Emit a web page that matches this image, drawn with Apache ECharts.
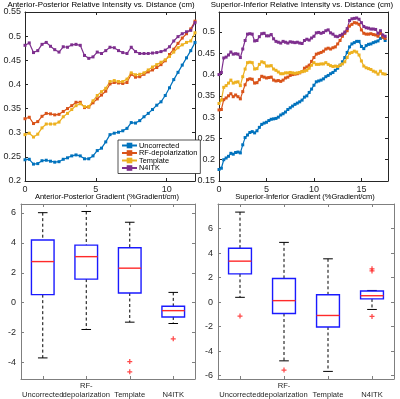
<!DOCTYPE html>
<html><head><meta charset="utf-8">
<script src="https://cdn.jsdelivr.net/npm/echarts@6/dist/echarts.min.js"></script>
<style>html,body{margin:0;padding:0;background:#fff}#c{width:400px;height:399px}</style>
</head><body><div id="c"></div>
<script>
const seriesNames = ['Uncorrected', 'RF-depolarization', 'Template', 'N4ITK'];
const seriesColors = ['#0072BD', '#D95319', '#EDB120', '#7E2F8E'];

// Anterior-Posterior relative intensity (distance step 0.3 cm)
const apStep = 0.3;
const apUncorrected = [0.244,0.245,0.235,0.236,0.242,0.243,0.241,0.239,0.240,0.245,
  0.248,0.252,0.254,0.252,0.246,0.246,0.252,0.263,0.268,0.281,
  0.296,0.299,0.301,0.304,0.309,0.321,0.320,0.325,0.333,0.340,
  0.348,0.357,0.364,0.377,0.393,0.410,0.425,0.440,0.455,0.470,0.487];
const apRF = [0.329,0.332,0.319,0.323,0.334,0.340,0.339,0.337,0.338,0.344,
  0.350,0.356,0.363,0.363,0.352,0.353,0.362,0.370,0.378,0.386,
  0.401,0.404,0.403,0.402,0.404,0.421,0.415,0.416,0.421,0.426,
  0.430,0.435,0.441,0.449,0.462,0.473,0.485,0.496,0.505,0.515,0.531];
const apTemplate = [0.296,0.299,0.291,0.297,0.310,0.318,0.318,0.318,0.322,0.333,
  0.340,0.348,0.356,0.360,0.354,0.354,0.366,0.377,0.385,0.392,
  0.406,0.408,0.406,0.406,0.411,0.424,0.420,0.421,0.424,0.430,
  0.436,0.441,0.446,0.451,0.458,0.467,0.476,0.482,0.487,0.490,0.507];
const apN4ITK = [0.481,0.486,0.466,0.470,0.483,0.487,0.479,0.472,0.467,0.478,
  0.477,0.482,0.483,0.481,0.460,0.454,0.457,0.467,0.464,0.470,
  0.477,0.476,0.470,0.466,0.464,0.477,0.468,0.464,0.464,0.464,
  0.465,0.466,0.468,0.471,0.478,0.490,0.499,0.505,0.509,0.512,0.528];

// Superior-Inferior relative intensity (distance step 0.25 cm)
const siStep = 0.25;
const siUncorrected = [0.177,0.180,0.200,0.204,0.208,0.215,0.213,0.217,0.218,0.216,
  0.235,0.252,0.258,0.264,0.266,0.263,0.268,0.276,0.283,0.286,
  0.288,0.292,0.295,0.296,0.297,0.300,0.305,0.308,0.312,0.318,
  0.322,0.326,0.330,0.333,0.336,0.340,0.347,0.350,0.358,0.366,
  0.375,0.383,0.385,0.387,0.390,0.395,0.398,0.402,0.405,0.410,
  0.415,0.422,0.430,0.440,0.452,0.465,0.472,0.475,0.478,0.478,
  0.466,0.461,0.468,0.471,0.472,0.475,0.477,0.479,0.485,0.488,0.480];
const siRF = [0.317,0.318,0.341,0.345,0.350,0.355,0.348,0.352,0.348,0.343,
  0.360,0.376,0.388,0.390,0.389,0.380,0.381,0.388,0.396,0.394,
  0.392,0.393,0.394,0.387,0.385,0.386,0.384,0.387,0.392,0.394,
  0.398,0.400,0.401,0.402,0.404,0.407,0.415,0.418,0.422,0.431,
  0.440,0.448,0.450,0.452,0.455,0.460,0.462,0.460,0.463,0.465,
  0.472,0.480,0.490,0.497,0.503,0.514,0.518,0.522,0.521,0.518,
  0.505,0.497,0.495,0.495,0.496,0.494,0.493,0.490,0.497,0.488,0.485];
const siTemplate = [0.332,0.340,0.370,0.374,0.380,0.387,0.380,0.382,0.383,0.374,
  0.395,0.413,0.428,0.429,0.428,0.413,0.414,0.424,0.430,0.428,
  0.420,0.420,0.421,0.413,0.410,0.406,0.402,0.402,0.404,0.404,
  0.405,0.404,0.403,0.404,0.405,0.407,0.408,0.410,0.415,0.422,
  0.428,0.424,0.424,0.425,0.425,0.428,0.424,0.421,0.419,0.420,
  0.419,0.422,0.425,0.430,0.440,0.450,0.452,0.455,0.453,0.446,
  0.432,0.420,0.416,0.414,0.412,0.408,0.406,0.401,0.408,0.402,0.401];
const siN4ITK = [0.400,0.405,0.439,0.441,0.446,0.453,0.448,0.449,0.448,0.440,
  0.460,0.480,0.495,0.496,0.495,0.479,0.480,0.489,0.496,0.497,
  0.491,0.491,0.494,0.484,0.478,0.476,0.474,0.478,0.476,0.474,
  0.477,0.476,0.475,0.476,0.474,0.473,0.480,0.483,0.481,0.486,
  0.490,0.498,0.499,0.497,0.499,0.503,0.505,0.498,0.495,0.490,
  0.489,0.492,0.495,0.500,0.508,0.527,0.531,0.532,0.533,0.530,
  0.522,0.513,0.510,0.509,0.507,0.507,0.506,0.497,0.503,0.493,0.490];

// Box plots: [lowerWhisker, Q1, median, Q3, upperWhisker]
const boxCategories = ['Uncorrected', 'RF-\ndepolarization', 'Template', 'N4ITK'];
const apBoxes = [[-3.69,0.54,2.75,4.19,6.02],[-1.79,1.58,3.08,3.85,6.10],[-1.30,0.65,2.31,3.68,5.38],[-1.39,-0.95,-0.53,-0.24,0.69]];
const apOutliers = [[2,-3.93],[2,-4.62],[3,-2.41]];
const siBoxes = [[0.39,2.30,3.34,4.39,7.34],[-4.79,-0.93,0.12,1.92,4.87],[-5.65,-2.03,-1.09,0.60,3.53],[-0.60,0.26,0.52,0.90,0.95]];
const siOutliers = [[0,-1.14],[1,-5.54],[3,2.72],[3,2.54],[3,-1.17]];

// Tick values
const apDistTicks = [0, 5, 10];
const siDistTicks = [0, 5, 10, 15];
const apIntensityTicks = [0.2, 0.25, 0.3, 0.35, 0.4, 0.45, 0.5, 0.55];
const siIntensityTicks = [0.15, 0.2, 0.25, 0.3, 0.35, 0.4, 0.45, 0.5];
const apGradTicks = [-4, -2, 0, 2, 4, 6];
const siGradTicks = [-6, -4, -2, 0, 2, 4, 6];

const titles = ['Anterior-Posterior Relative Intensity vs. Distance (cm)', 'Superior-Inferior Relative Intensity vs. Distance (cm)',
  'Anterior-Posterior Gradient (%Gradient/cm)', 'Superior-Inferior Gradient (%Gradient/cm)'];

const FONT = 'Liberation Sans, Arial, sans-serif';
const frameDark = '#262626';
const frameGray = '#7f7f7f';

function toPairs(arr, step) { return arr.map((v, i) => [+(i * step).toFixed(2), v]); }

function valAxis(gi, pos, min, max, ticks, frame, showLabel, margin) {
  return {
    type: 'value', gridIndex: gi, position: pos, min: min, max: max,
    axisLine: { show: true, onZero: false, lineStyle: { color: frame, width: 1 } },
    axisTick: { show: true, inside: true, length: 3, customValues: ticks, lineStyle: { color: frame } },
    axisLabel: { show: showLabel, customValues: ticks, color: '#262626', fontSize: 9, fontFamily: FONT, margin: margin || 4 },
    splitLine: { show: false }
  };
}
function catAxis(gi, pos, frame, showLabel) {
  return {
    type: 'category', gridIndex: gi, position: pos, data: boxCategories, boundaryGap: true,
    axisLine: { show: true, onZero: false, lineStyle: { color: frame, width: 1 } },
    axisTick: { show: true, inside: true, length: 3, alignWithLabel: true, lineStyle: { color: frame } },
    axisLabel: { show: showLabel, color: '#262626', fontSize: 7.6, lineHeight: 8.5, fontFamily: FONT, margin: 3, interval: 0,
      formatter: v => v.indexOf('\n') >= 0 ? v : '\n' + v },
    splitLine: { show: false }
  };
}

const xAxes = [
  valAxis(0, 'bottom', 0, 12, apDistTicks, frameDark, true),
  valAxis(0, 'top', 0, 12, apDistTicks, frameDark, false),
  valAxis(1, 'bottom', 0, 17.8, siDistTicks, frameDark, true),
  valAxis(1, 'top', 0, 17.8, siDistTicks, frameDark, false),
  catAxis(2, 'bottom', frameGray, true),
  catAxis(2, 'top', frameGray, false),
  catAxis(3, 'bottom', frameGray, true),
  catAxis(3, 'top', frameGray, false)
];
const yAxes = [
  valAxis(0, 'left', 0.2, 0.55, apIntensityTicks, frameDark, true),
  valAxis(0, 'right', 0.2, 0.55, apIntensityTicks, frameDark, false),
  valAxis(1, 'left', 0.15, 0.547, siIntensityTicks, frameDark, true),
  valAxis(1, 'right', 0.15, 0.547, siIntensityTicks, frameDark, false),
  valAxis(2, 'left', -5.1, 6.6, apGradTicks, frameGray, true, 5),
  valAxis(2, 'right', -5.1, 6.6, apGradTicks, frameGray, false),
  valAxis(3, 'left', -6.27, 8, siGradTicks, frameGray, true, 5),
  valAxis(3, 'right', -6.27, 8, siGradTicks, frameGray, false)
];

function lineSeries(name, color, data, gi) {
  return {
    type: 'line', name: name, xAxisIndex: gi * 2, yAxisIndex: gi * 2, data: data,
    symbol: 'rect', symbolSize: 3, showSymbol: true, animation: false,
    lineStyle: { color: color, width: 1.2 }, itemStyle: { color: color }
  };
}

function boxRender(params, api) {
  const c = api.value(0);
  const lo = api.coord([c, api.value(1)]);
  const q1 = api.coord([c, api.value(2)]);
  const md = api.coord([c, api.value(3)]);
  const q3 = api.coord([c, api.value(4)]);
  const hi = api.coord([c, api.value(5)]);
  const band = api.size([1, 0])[0];
  const bw = band * 0.52, cw = band * 0.22;
  const cx = lo[0];
  const dash = { stroke: '#000', lineWidth: 1, lineDash: [3, 2.5] };
  const solid = { stroke: '#000', lineWidth: 1 };
  return {
    type: 'group', children: [
      { type: 'line', shape: { x1: cx, y1: hi[1], x2: cx, y2: q3[1] }, style: dash },
      { type: 'line', shape: { x1: cx, y1: q1[1], x2: cx, y2: lo[1] }, style: dash },
      { type: 'line', shape: { x1: cx - cw / 2, y1: hi[1], x2: cx + cw / 2, y2: hi[1] }, style: solid },
      { type: 'line', shape: { x1: cx - cw / 2, y1: lo[1], x2: cx + cw / 2, y2: lo[1] }, style: solid },
      { type: 'rect', shape: { x: cx - bw / 2, y: q3[1], width: bw, height: q1[1] - q3[1] }, style: { fill: 'none', stroke: '#1a1aff', lineWidth: 1.4 } },
      { type: 'line', shape: { x1: cx - bw / 2, y1: md[1], x2: cx + bw / 2, y2: md[1] }, style: { stroke: '#ff2a2a', lineWidth: 1.4 } }
    ]
  };
}
function boxSeries(boxes, gi) {
  return {
    type: 'custom', xAxisIndex: gi * 2, yAxisIndex: gi * 2, renderItem: boxRender, animation: false,
    encode: { x: 0, y: [1, 2, 3, 4, 5] },
    data: boxes.map((b, i) => [i].concat(b))
  };
}
function outlierSeries(pts, gi) {
  return {
    type: 'scatter', xAxisIndex: gi * 2, yAxisIndex: gi * 2, data: pts, animation: false,
    symbol: 'path://M3,0H5V3H8V5H5V8H3V5H0V3H3Z', symbolSize: 5,
    itemStyle: { color: '#ff1a1a' }
  };
}

const series = [];
const apAll = [apUncorrected, apRF, apTemplate, apN4ITK];
const siAll = [siUncorrected, siRF, siTemplate, siN4ITK];
seriesNames.forEach((n, i) => series.push(lineSeries(n, seriesColors[i], toPairs(apAll[i], apStep), 0)));
seriesNames.forEach((n, i) => series.push(lineSeries(n, seriesColors[i], toPairs(siAll[i], siStep), 1)));
series.push(boxSeries(apBoxes, 2), outlierSeries(apOutliers, 2));
series.push(boxSeries(siBoxes, 3), outlierSeries(siOutliers, 3));

const topTitle = { fill: '#000', fontSize: 7.9, fontFamily: FONT, textAlign: 'center', textVerticalAlign: 'middle' };
const botTitle = { fill: '#000', fontSize: 7.5, fontFamily: FONT, textAlign: 'center', textVerticalAlign: 'middle' };
const chart = echarts.init(document.getElementById('c'), null, { renderer: 'canvas' });
chart.setOption({
  animation: false,
  backgroundColor: '#fff',
  grid: [
    { left: 25, top: 12, width: 170, height: 169 },
    { left: 219, top: 12, width: 169, height: 169 },
    { left: 21, top: 204, width: 174, height: 176 },
    { left: 218, top: 204, width: 176, height: 176 }
  ],
  xAxis: xAxes,
  yAxis: yAxes,
  legend: {
    data: seriesNames, orient: 'vertical', left: 118, top: 140,
    padding: [2, 3, 2, 3], itemGap: 0.5, itemWidth: 15, itemHeight: 7,
    textStyle: { fontSize: 7.4, fontFamily: FONT, color: '#000', padding: [0, 0, 0, -3] },
    borderColor: '#262626', borderWidth: 0.8, backgroundColor: '#fff', selectedMode: false
  },
  graphic: [
    { type: 'text', x: 101, y: 5, style: Object.assign({ text: titles[0] }, topTitle) },
    { type: 'text', x: 302, y: 5, style: Object.assign({ text: titles[1] }, topTitle) },
    { type: 'text', x: 107, y: 197, style: Object.assign({ text: titles[2] }, botTitle) },
    { type: 'text', x: 305, y: 197, style: Object.assign({ text: titles[3] }, botTitle) }
  ],
  series: series
});
</script></body></html>
